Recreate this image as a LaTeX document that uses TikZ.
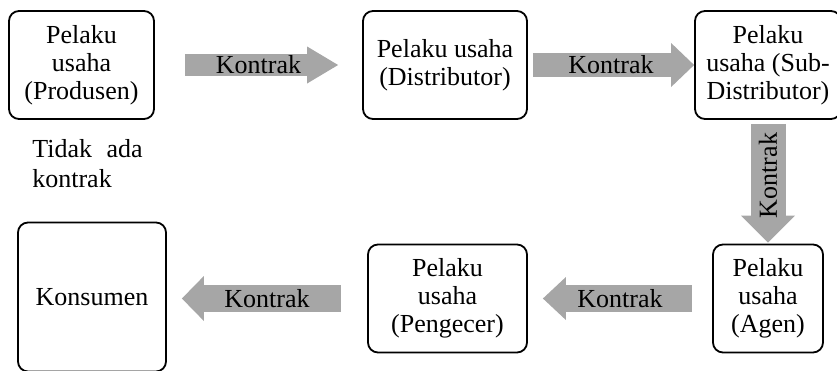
\documentclass[tikz,border=0pt]{standalone}
\usepackage{fontspec}
\setmainfont{Liberation Serif}
\usepackage{xcolor}
\usepackage{tikz}
\usetikzlibrary{arrows.meta}

\definecolor{arrowgray}{RGB}{166,166,166}

\tikzset{
  box/.style={draw, rounded corners=10pt, line width=1.8pt, align=center,
    inner sep=4pt, minimum height=108pt,
    font=\fontsize{26}{28}\selectfont},
  panah/.style n args={3}{draw=arrowgray, line width=#1,
    -{Triangle[length=#2, width=#3, line width=0pt]}},
  lbl/.style={font=\fontsize{26}{28}\selectfont, inner sep=0pt}
}

\begin{document}
\begin{tikzpicture}[semithick]
\useasboundingbox (0,0) rectangle (837pt,-370pt);

\node[box, minimum width=145pt] (prod) at (81.5pt,-65pt) {Pelaku\\usaha\\(Produsen)};
\node[box, minimum width=164pt] (dist) [right of=prod, node distance=363.5pt] {Pelaku usaha\\(Distributor)};
\node[box, minimum width=146pt] (sub) [right of=dist, node distance=323pt] {Pelaku\\usaha (Sub-\\Distributor)};
\node[box, minimum width=110pt] (agen) [below of=sub, node distance=233.5pt] {Pelaku\\usaha\\(Agen)};
\node[box, minimum width=159pt] (peng) [left of=agen, node distance=320.5pt] {Pelaku\\usaha\\(Pengecer)};
\node[box, minimum width=148pt, minimum height=149pt] (kons) [left of=peng, node distance=355.5pt, yshift=1.5pt] {Konsumen};

\node[lbl, align=left, font=\fontsize{26}{30}\selectfont] (ket) [below of=prod, node distance=99pt, xshift=6pt] {Tidak\hspace{8pt} ada\\kontrak};

\path   (prod)  edge[panah={22pt}{31pt}{37pt}, shorten <=30pt, shorten >=24pt]
                    node[lbl] {Kontrak} (dist)
        (dist)  edge[panah={24pt}{23pt}{44pt}, shorten <=5pt]
                    node[lbl] {Kontrak} (sub)
        (sub.south -| agen) edge[panah={35pt}{27pt}{54pt}, shorten <=4pt, shorten >=1pt]
                    node[lbl, rotate=90, pos=0.45] {Kontrak} (agen)
        (agen)  edge[panah={27pt}{23pt}{43pt}, shorten <=20pt, shorten >=15pt]
                    node[lbl] {Kontrak} (peng)
        (peng)  edge[panah={27pt}{22pt}{45pt}, shorten <=26pt, shorten >=15pt]
                    node[lbl] {Kontrak} (kons.east |- peng);

\end{tikzpicture}
\end{document}
